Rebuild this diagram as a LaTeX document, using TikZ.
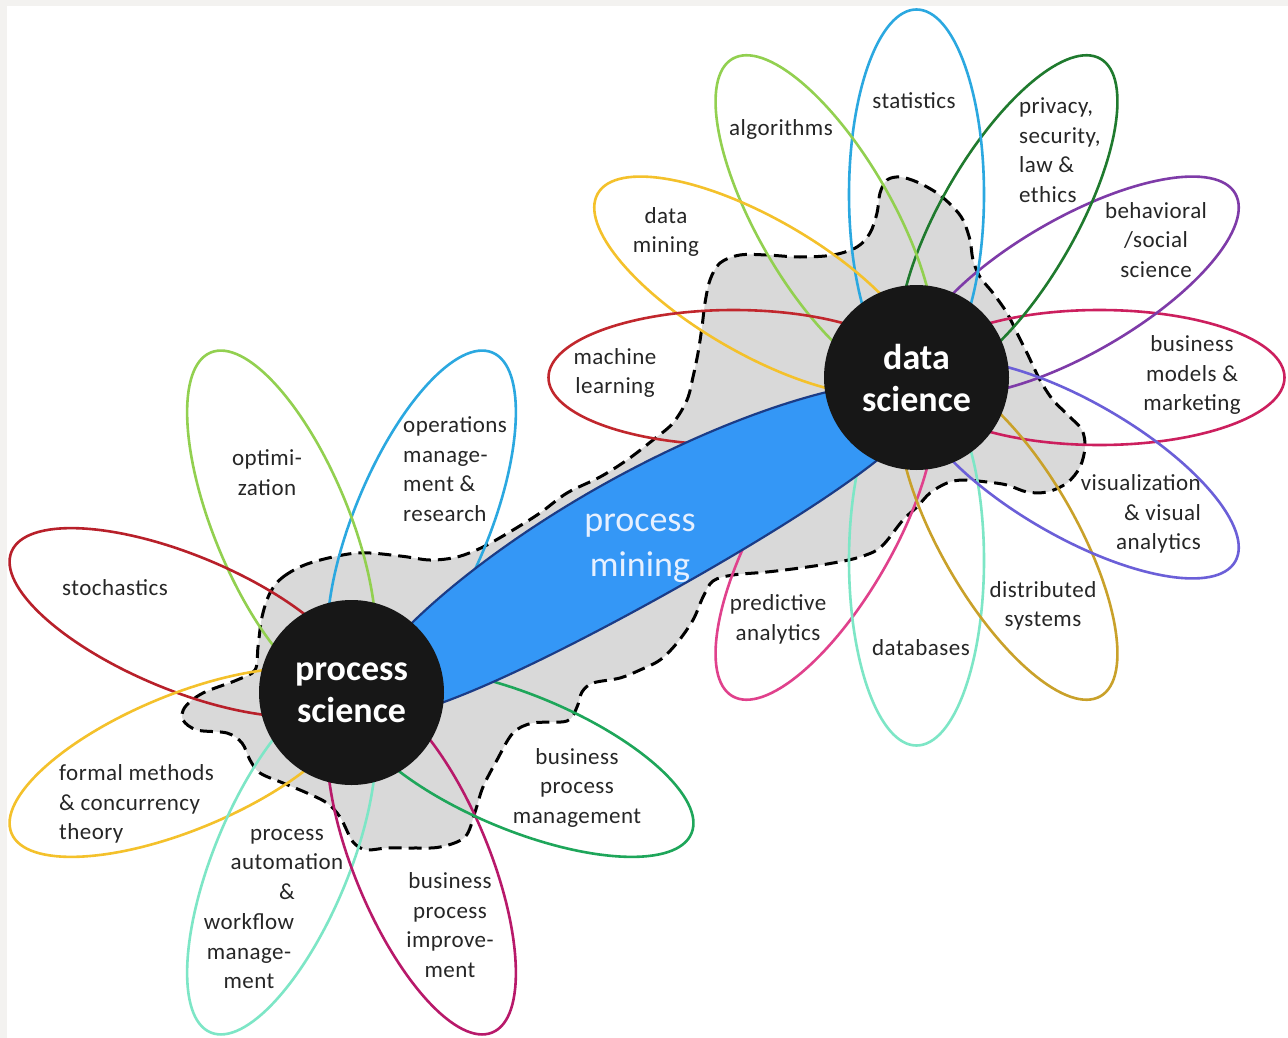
\documentclass[tikz,border=0pt]{standalone}
\usepackage{fontspec}
\setmainfont{Carlito}
\newfontfamily\lblfont[LetterSpace=2]{Carlito}
\usetikzlibrary{calc}
\definecolor{framegray}{HTML}{F3F2F0}
\definecolor{blobgray}{HTML}{D9D9D9}
\definecolor{hubblack}{HTML}{171717}
\definecolor{minefill}{HTML}{3497F6}
\definecolor{mineline}{HTML}{1B3C87}
\definecolor{minetext}{HTML}{E6F0FF}
\definecolor{cML}{HTML}{C1272D}
\definecolor{cStoch}{HTML}{B8202A}
\definecolor{cAlgo}{HTML}{92D050}
\definecolor{cOpt}{HTML}{92D050}
\definecolor{cStat}{HTML}{2BA8E0}
\definecolor{cOps}{HTML}{2BA8E0}
\definecolor{cDMin}{HTML}{F4C12B}
\definecolor{cFormal}{HTML}{F4C12B}
\definecolor{cDist}{HTML}{C9A12A}
\definecolor{cDB}{HTML}{7DE6C6}
\definecolor{cAuto}{HTML}{7DE6C6}
\definecolor{cImpr}{HTML}{B8196A}
\definecolor{cBizMod}{HTML}{CC1F5E}
\definecolor{cPred}{HTML}{E0418C}
\definecolor{cBPM}{HTML}{1EA65A}
\definecolor{cPriv}{HTML}{1F7A2E}
\definecolor{cBehav}{HTML}{7E3BA8}
\definecolor{cVis}{HTML}{6B5FD8}
\begin{document}
\begin{tikzpicture}[x=1pt,y=-1pt,
  petal/.style={line width=2.6pt},
  blob/.style={fill=blobgray, draw=black, line width=3pt, dash pattern=on 13pt off 7pt},
  mining/.style={fill=minefill, draw=mineline, line width=2.2pt},
  hub/.style={circle, fill=hubblack, minimum size=185pt, inner sep=0pt, text=white,
    font=\fontsize{36}{42}\selectfont\bfseries, align=center},
  lbl/.style={font=\lblfont\fontsize{23}{29.5}\selectfont, text=black!85, inner sep=0pt, align=center},
  minelbl/.style={font=\fontsize{36}{45}\selectfont, text=minetext, inner sep=0pt, align=center}]
\useasboundingbox (0,0) rectangle (1288,1038);
\fill[framegray] (0,0) rectangle (1288,1038);
\fill[white] (7,6) rectangle (1288,1038);

\coordinate (psc) at (351.5,692.5);
\coordinate (dsc) at (916.5,377.5);
\coordinate (pmc) at (634,535);

% grey blob
\draw[blob] plot[smooth cycle, tension=0.55] coordinates {
(270,593) (283,577) (310,563) (357,553) (400,556) (430,560) (457,557) (483,547)
(513,530) (540,513) (567,493) (600,477) (627,460) (653,440) (673,423) (687,400)
(693,377) (698,353) (702,327) (705,303) (710,280) (720,263) (740,255) (767,255)
(800,257) (833,255) (857,247) (870,233) (877,213) (880,193) (887,180) (900,177)
(917,182) (937,193) (953,207) (963,220) (970,240) (973,260) (980,277) (993,293)
(1007,313) (1017,333) (1027,353) (1040,380) (1053,400) (1070,417) (1082,430)
(1085,447) (1080,467) (1067,483) (1047,492) (1027,492) (1007,485) (987,482)
(963,480) (947,483) (930,493) (917,507) (903,520) (881,547) (860,557) (833,563)
(800,568) (767,572) (733,575) (713,581) (703,597) (693,620) (677,643) (660,660)
(640,670) (620,678) (593,683) (582,692) (577,707) (567,721) (533,723) (513,733)
(497,760) (483,787) (475,812) (465,837) (440,847) (413,848) (387,848) (367,850)
(356,845) (350,837) (340,817) (327,803) (307,793) (283,783) (260,773) (250,760)
(242,743) (227,733) (197,730) (183,720) (185,707) (203,693) (237,680) (255,670)
(258,647) (262,617)};

% petals of data science
\foreach \ang/\col in {0/cBizMod,30/cBehav,60/cPriv,90/cStat,120/cAlgo,150/cDMin,180/cML,240/cPred,270/cDB,300/cDist,330/cVis}
  \draw[petal,draw=\col,shift={(dsc)},rotate=\ang] (183pt,0pt) ellipse [x radius=185pt,y radius=67.5pt];

% petals of process science
\foreach \ang/\col in {67.5/cOps,112.5/cOpt,157.5/cStoch,202.5/cFormal,247.5/cAuto,292.5/cImpr,337.5/cBPM}
  \draw[petal,draw=\col,shift={(psc)},rotate=\ang] (183pt,0pt) ellipse [x radius=185pt,y radius=67.5pt];

% process mining (slightly bent lens between the two hubs)
\draw[mining,shift={(pmc)},rotate=29.14]
  plot[domain=0:360, samples=181, variable=\t]
  ({325*cos(\t)}, {4 + 8*(325*cos(\t)/240)^2 + 63*sin(\t)}) -- cycle;
\node[minelbl] (pm) at (640,548) {process\\mining};

% hubs
\node[hub] (ps) at (psc) {process\\science};
\node[hub] (ds) at (dsc) {data\\science};

% labels data science
\node[lbl] (lStat) at (914,101) {statistics};
\node[lbl] (lAlgo) at (781,129) {algorithms};
\node[lbl, anchor=west, align=left] (lPriv) at (1019,150) {privacy,\\security,\\law \&\\ethics};
\node[lbl] (lBehav) at (1156,240) {behavioral\\/social\\science};
\node[lbl] (lDMin) at (666,232) {data\\mining};
\node[lbl] (lML) at (615,373) {machine\\learning};
\node[lbl] (lBizMod) at (1192,375) {business\\models \&\\marketing};
\node[lbl, anchor=east, align=right] (lVis) at (1201,514) {visualization\\\& visual\\analytics};
\node[lbl] (lDist) at (1043,606) {distributed\\systems};
\node[lbl] (lDB) at (921,648) {databases};
\node[lbl] (lPred) at (778,619.5) {predictive\\analytics};

% labels process science
\node[lbl] (lOpt) at (267,472.5) {optimi-\\zation};
\node[lbl, anchor=west, align=left] (lOps) at (403,469) {operations\\manage-\\ment \&\\research};
\node[lbl] (lStoch) at (115,588) {stochastics};
\node[lbl, anchor=west, align=left] (lFormal) at (59,804) {formal methods\\\& concurrency\\theory};
\node[lbl] (lAutoA) at (287,864) {process\\automation\\\&};
\node[lbl] (lAutoB) at (249,951.5) {workflow\\manage-\\ment};
\node[lbl] (lImpr) at (450,925) {business\\process\\improve-\\ment};
\node[lbl] (lBPM) at (577,787.5) {business\\process\\management};
\end{tikzpicture}
\end{document}
